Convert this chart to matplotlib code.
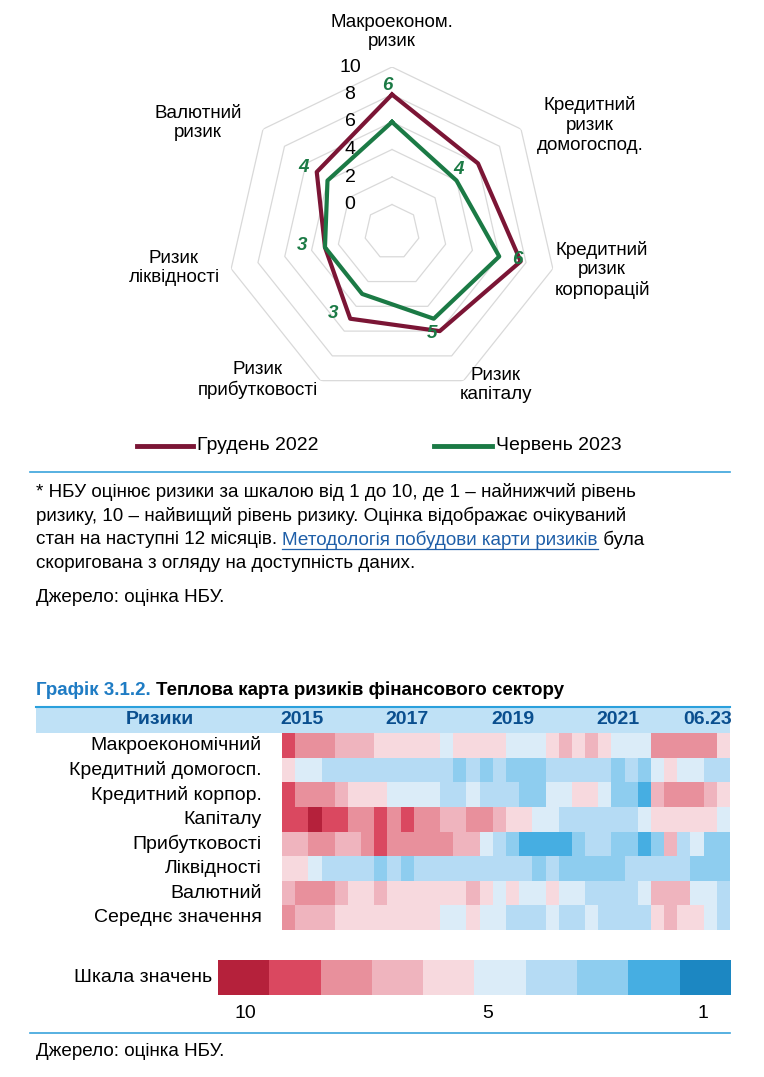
import numpy as np
import matplotlib
matplotlib.use("Agg")
from matplotlib import pyplot as plt
from matplotlib.colors import ListedColormap, BoundaryNorm

W, H = 764, 1077
NARROW = ['Liberation Sans Narrow', 'Liberation Sans', 'DejaVu Sans']
SANS = ['Liberation Sans', 'DejaVu Sans']

# radar data
axes_names = ["Макроеконом.\nризик", "Кредитний\nризик\nдомогоспод.", "Кредитний\nризик\nкорпорацій",
              "Ризик\nкапіталу", "Ризик\nприбутковості", "Ризик\nліквідності", "Валютний\nризик"]
dec_2022 = [8, 6, 7.6, 6, 5, 3, 5]
jun_2023 = [6, 4, 6, 5, 3, 3, 4]
ring_ticks = [0, 2, 4, 6, 8, 10]

# heatmap data (quarters 2015Q1 .. 2023Q2)
risk_rows = ["Макроекономічний", "Кредитний домогосп.", "Кредитний корпор.", "Капіталу",
             "Прибутковості", "Ліквідності", "Валютний", "Середнє значення"]
heat = [
    [9, 8, 8, 8, 7, 7, 7, 6, 6, 6, 6, 6, 5, 6, 6, 6, 6, 5, 5, 5, 6, 7, 6, 7, 6, 5, 5, 5, 8, 8, 8, 8, 8, 6],
    [6, 5, 5, 4, 4, 4, 4, 4, 4, 4, 4, 4, 4, 3, 4, 3, 4, 3, 3, 3, 4, 4, 4, 4, 4, 3, 4, 3, 5, 6, 5, 5, 4, 4],
    [9, 8, 8, 8, 7, 6, 6, 6, 5, 5, 5, 5, 4, 4, 5, 4, 4, 4, 3, 3, 5, 5, 6, 6, 5, 3, 3, 2, 7, 8, 8, 8, 7, 6],
    [9, 9, 10, 9, 9, 8, 8, 9, 8, 9, 8, 8, 7, 7, 8, 8, 7, 6, 6, 5, 5, 4, 4, 4, 4, 4, 4, 5, 6, 6, 6, 6, 6, 5],
    [7, 7, 8, 8, 7, 7, 8, 9, 8, 8, 8, 8, 8, 7, 7, 5, 4, 3, 2, 2, 2, 2, 3, 4, 4, 3, 3, 2, 3, 7, 4, 5, 3, 3],
    [6, 6, 5, 4, 4, 4, 4, 3, 4, 3, 4, 4, 4, 4, 4, 4, 4, 4, 4, 3, 4, 3, 3, 3, 3, 3, 4, 4, 4, 4, 4, 3, 3, 3],
    [7, 8, 8, 8, 7, 6, 6, 7, 6, 6, 6, 6, 6, 6, 7, 6, 5, 6, 5, 5, 6, 5, 5, 4, 4, 4, 4, 5, 7, 7, 7, 5, 5, 4],
    [8, 7, 7, 7, 6, 6, 6, 6, 6, 6, 6, 6, 5, 5, 6, 5, 5, 4, 4, 4, 5, 4, 4, 5, 4, 4, 4, 4, 6, 7, 6, 6, 5, 4],
]
year_labels = ["2015", "2017", "2019", "2021", "06.23"]
year_cols = [1.5, 9.5, 17.5, 25.5, 32.3]

scale_colors = ['#1c87c2', '#46aee2', '#8ecdef', '#b5dbf4', '#dbecf8',
                '#f7d9de', '#efb4be', '#e8909c', '#da4860', '#b5213b']
scale_values = list(range(1, 11))

BLUE = '#0a4f8f'
MAROON = '#7b1535'
GREEN = '#1b7a45'

fig = plt.figure(figsize=(W / 100, H / 100), dpi=100)


def fx(x):
    return x / W


def fy(y):
    return 1 - y / H


def px_axes(x0, y0, x1, y1, **kw):
    return fig.add_axes([fx(x0), fy(y1), (x1 - x0) / W, (y1 - y0) / H], **kw)


# ---------- radar ----------
cx, cy, R = 392, 232, 165
ax = px_axes(cx - R, cy - R, cx + R, cy + R, projection='polar')
n = len(axes_names)
theta = np.linspace(0, 2 * np.pi, n, endpoint=False)
ax.set_theta_zero_location('N')
ax.set_theta_direction(-1)
ax.set_ylim(-2, 10)
ax.axis('off')
tc = np.append(theta, theta[0])
for r in ring_ticks:
    ax.plot(tc, [r] * (n + 1), color='#d9d9d9', lw=0.9, zorder=1)
ax.plot(tc, dec_2022 + dec_2022[:1], color=MAROON, lw=3, zorder=3)
ax.plot(tc, jun_2023 + jun_2023[:1], color=GREEN, lw=3, zorder=4)

for r in ring_ticks:
    frac = (r + 2) / 12
    fig.text(fx(cx - 42), fy(cy - frac * R), str(r), ha='center', va='center',
             fontsize=14, family=NARROW)

name_pos = [(392, 32), (590, 125), (602, 270), (496, 385), (258, 380), (174, 268), (198, 123)]
for (x, y), s in zip(name_pos, axes_names):
    fig.text(fx(x), fy(y), s, ha='center', va='center', fontsize=13.5, family=NARROW,
             linespacing=1.2)

lab_pos = [(387, 85), (458, 170), (517, 259), (432, 333), (333, 313), (302, 245), (304, 168)]
for (x, y), v in zip(lab_pos, jun_2023):
    fig.text(fx(x), fy(y), str(v), ha='center', va='center', fontsize=13.5, family=NARROW,
             color=GREEN, fontweight='bold', fontstyle='italic')

fig.add_artist(plt.Line2D([fx(137), fx(193)], [fy(446), fy(446)], color=MAROON, lw=3.5))
fig.text(fx(197), fy(446), "Грудень 2022", va='center', fontsize=14, family=NARROW)
fig.add_artist(plt.Line2D([fx(434), fx(492)], [fy(446), fy(446)], color=GREEN, lw=3.5))
fig.text(fx(496), fy(446), "Червень 2023", va='center', fontsize=14, family=NARROW)

# ---------- notes ----------
fig.add_artist(plt.Line2D([fx(30), fx(730)], [fy(472), fy(472)], color='#3aa3dc', lw=1.2))
fs = 13.6
fig.text(fx(36), fy(492), "* НБУ оцінює ризики за шкалою від 1 до 10, де 1 – найнижчий рівень",
         va='center', fontsize=fs, family=SANS)
fig.text(fx(36), fy(516), "ризику, 10 – найвищий рівень ризику. Оцінка відображає очікуваний",
         va='center', fontsize=fs, family=SANS)
renderer = fig.canvas.get_renderer()
x = fx(36)
for s, col, und in [("стан на наступні 12 місяців. ", 'black', False),
                    ("Методологія побудови карти ризиків", '#1f5fa8', True),
                    (" була", 'black', False)]:
    t = fig.text(x, fy(540), s, va='center', fontsize=fs, family=SANS, color=col)
    bb = t.get_window_extent(renderer)
    if und:
        fig.add_artist(plt.Line2D([x, x + bb.width / W], [fy(549), fy(549)], color=col, lw=0.9))
    x += bb.width / W
fig.text(fx(36), fy(564), "скоригована з огляду на доступність даних.", va='center', fontsize=fs, family=SANS)
fig.text(fx(36), fy(598), "Джерело: оцінка НБУ.", va='center', fontsize=fs, family=SANS)

# ---------- heatmap ----------
t = fig.text(fx(36), fy(690), "Графік 3.1.2. ", va='center', fontsize=13.5, family=SANS,
             fontweight='bold', color='#1f7cc4')
bb = t.get_window_extent(renderer)
fig.text(fx(36) + bb.width / W, fy(690), "Теплова карта ризиків фінансового сектору", va='center',
         fontsize=13.5, family=SANS, fontweight='bold')

hx0, hx1, hy0, hy1 = 282, 730, 733, 930
band = px_axes(36, 707, 730, 733)
band.set_facecolor('#bfe1f6')
band.set_xticks([])
band.set_yticks([])
for sp in band.spines.values():
    sp.set_visible(False)
fig.add_artist(plt.Line2D([fx(36), fx(730)], [fy(707), fy(707)], color='#2aa0dc', lw=1.5))
fig.text(fx(160), fy(720), "Ризики", ha='center', va='center', fontsize=14, family=SANS,
         fontweight='bold', color=BLUE)

hax = px_axes(hx0, hy0, hx1, hy1)
cmap = ListedColormap(scale_colors)
norm = BoundaryNorm(np.arange(0.5, 11.5, 1), cmap.N)
data = np.array(heat)
hax.pcolormesh(np.arange(data.shape[1] + 1), np.arange(data.shape[0] + 1), data, cmap=cmap, norm=norm)
hax.set_xlim(0, data.shape[1])
hax.set_ylim(data.shape[0], 0)
hax.axis('off')
for i, name in enumerate(risk_rows):
    y = hy0 + (i + 0.5) * (hy1 - hy0) / len(risk_rows)
    fig.text(fx(262), fy(y), name, ha='right', va='center', fontsize=14, family=SANS)
for c, lab in zip(year_cols, year_labels):
    xx = hx0 + c * (hx1 - hx0) / data.shape[1]
    fig.text(fx(xx), fy(720), lab, ha='center', va='center', fontsize=14, family=SANS,
             fontweight='bold', color=BLUE)

# ---------- scale ----------
sax = px_axes(218, 960, 730, 995)
sax.imshow(np.array([scale_values[::-1]]), cmap=cmap, norm=norm, aspect='auto',
           extent=(0, 10, 0, 1))
sax.axis('off')
fig.text(fx(212), fy(977), "Шкала значень", ha='right', va='center', fontsize=14, family=SANS)
for v, xx in [(10, 245), (5, 488), (1, 703)]:
    fig.text(fx(xx), fy(1014), str(v), ha='center', va='center', fontsize=14, family=SANS)
fig.add_artist(plt.Line2D([fx(30), fx(730)], [fy(1033), fy(1033)], color='#3aa3dc', lw=1.2))
fig.text(fx(36), fy(1051), "Джерело: оцінка НБУ.", va='center', fontsize=fs, family=SANS)

fig.savefig("out.png", dpi=100)
